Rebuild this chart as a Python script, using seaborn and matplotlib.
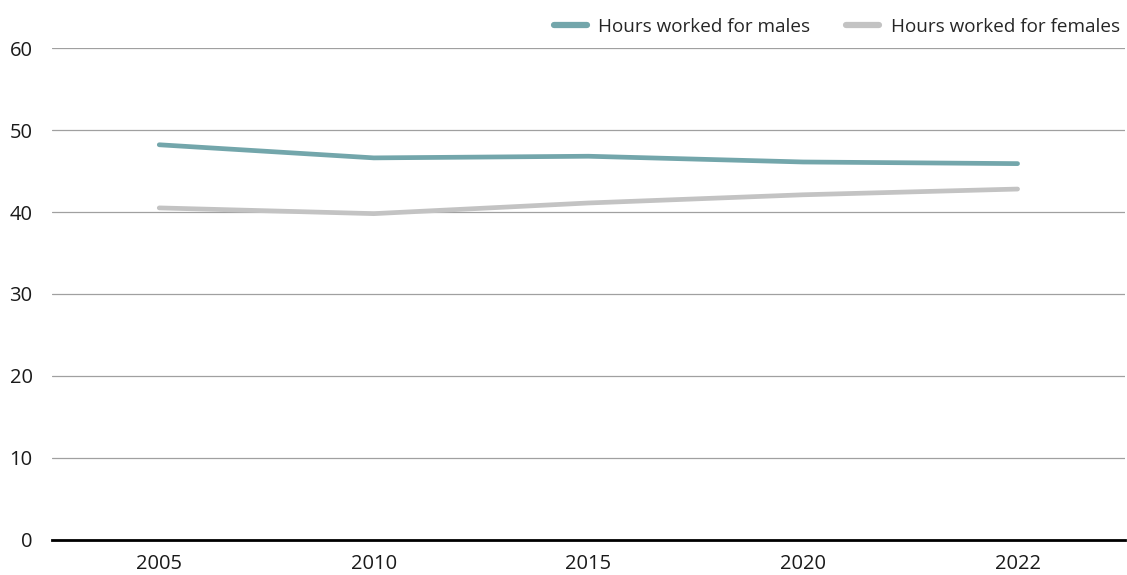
import pandas as pd
import matplotlib
matplotlib.use("Agg")
import matplotlib.pyplot as plt
import seaborn as sns

# data
years = ["2005", "2010", "2015", "2020", "2022"]
males = [48.2, 46.6, 46.8, 46.1, 45.9]
females = [40.5, 39.8, 41.1, 42.1, 42.8]

df = pd.DataFrame({"Year": years * 2,
                   "Hours": males + females,
                   "Series": ["Hours worked for males"] * 5 + ["Hours worked for females"] * 5})

sns.set_style("white")
plt.rcParams['font.family'] = ['Open Sans', 'DejaVu Sans']

fig = plt.figure(figsize=(11.27, 5.75), dpi=100)
ax = fig.add_axes([0.0461, 0.0609, 0.952, 0.8556])

sns.lineplot(data=df, x="Year", y="Hours", hue="Series",
             palette=["#73a6ab", "#c3c3c3"], linewidth=3.4, ax=ax, sort=False)

ax.set_ylim(0, 60)
ax.set_xlim(-0.5, 4.5)
ax.set_yticks(range(0, 61, 10))
ax.yaxis.grid(True, color="#a0a0a0", linewidth=0.9)
ax.set_axisbelow(True)
for s in ["top", "right", "left"]:
    ax.spines[s].set_visible(False)
ax.spines["bottom"].set_color("black")
ax.spines["bottom"].set_linewidth(2)
ax.tick_params(axis="both", length=0, labelsize=14.5, colors="#1a1a1a")
ax.tick_params(axis="x", pad=10)
ax.tick_params(axis="y", pad=14)
ax.set_xlabel("")
ax.set_ylabel("")

leg = ax.legend(loc="lower right", bbox_to_anchor=(1.004, 1.005), ncol=2, frameon=False,
                fontsize=13.6, handlelength=1.75, columnspacing=1.9, handletextpad=0.6,
                borderaxespad=0.1)
for h in leg.get_lines():
    h.set_linewidth(4.5)
    h.set_solid_capstyle("round")

fig.savefig("out.png", dpi=100)
